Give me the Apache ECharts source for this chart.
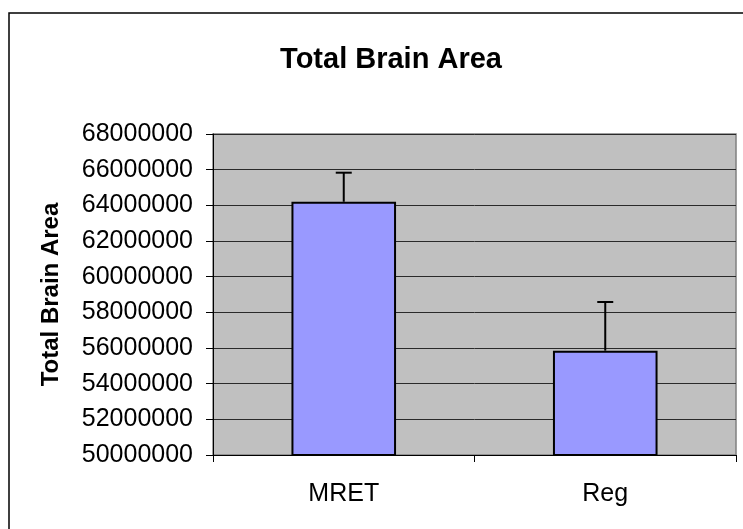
<!DOCTYPE html>
<html>
<head>
<meta charset="utf-8">
<script src="https://cdn.jsdelivr.net/npm/echarts@6/dist/echarts.min.js"></script>
<style>html,body{margin:0;padding:0;background:#fff}#c{width:743px;height:529px}</style>
</head>
<body>
<div id="c"></div>
<script>
var categories = ['MRET', 'Reg'];
var means = [64200000, 55850000];
var errors = [1630000, 2730000];
var yMin = 50000000, yMax = 68000000, yStep = 2000000;

var chart = echarts.init(document.getElementById('c'), null, {renderer: 'canvas'});
var errData = categories.map(function (c, i) { return [i, means[i], errors[i]]; });
var font = 'Liberation Sans, Arial, sans-serif';

chart.setOption({
  animation: false,
  backgroundColor: '#fff',
  title: {
    text: 'Total Brain Area',
    left: 386, top: 40, textAlign: 'center',
    textStyle: {fontFamily: font, fontSize: 29, fontWeight: 'bold', color: '#000'}
  },
  graphic: [{
    type: 'rect', z: 100, silent: true,
    shape: {x: 9, y: 13, width: 800, height: 600},
    style: {fill: 'none', stroke: '#000', lineWidth: 1.5}
  }],
  grid: {
    left: 213, right: 7, top: 134, bottom: 74,
    show: true, backgroundColor: '#C0C0C0', borderColor: '#808080', borderWidth: 1.5
  },
  xAxis: {
    type: 'category', data: categories,
    axisLine: {lineStyle: {color: '#000', width: 1}},
    axisTick: {show: true, length: 7, lineStyle: {color: '#000'}},
    axisLabel: {margin: 27, fontFamily: font, fontSize: 25, color: '#000'},
    splitLine: {show: false}
  },
  yAxis: {
    type: 'value', min: yMin, max: yMax, interval: yStep,
    name: 'Total Brain Area', nameLocation: 'middle', nameGap: 150,
    nameTextStyle: {fontFamily: font, fontSize: 24, fontWeight: 'bold', color: '#000'},
    axisLine: {show: true, lineStyle: {color: '#000', width: 1}},
    axisTick: {show: true, length: 7, lineStyle: {color: '#000'}},
    axisLabel: {margin: 20, fontFamily: font, fontSize: 25, color: '#000',
      formatter: function (v) { return String(v); }},
    splitLine: {show: true, lineStyle: {color: '#2a2a2a', width: 1}}
  },
  series: [{
    type: 'bar', data: means, barWidth: '40%',
    itemStyle: {color: '#9999FF', borderColor: '#000', borderWidth: 2}
  }, {
    type: 'custom', data: errData, z: 10,
    renderItem: function (params, api) {
      var x = api.value(0), m = api.value(1), e = api.value(2);
      var p0 = api.coord([x, m]);
      var p1 = api.coord([x, m + e]);
      var hw = 8;
      return {
        type: 'group',
        children: [
          {type: 'line', shape: {x1: p0[0], y1: p0[1], x2: p1[0], y2: p1[1]},
            style: {stroke: '#000', lineWidth: 2}},
          {type: 'line', shape: {x1: p1[0] - hw, y1: p1[1], x2: p1[0] + hw, y2: p1[1]},
            style: {stroke: '#000', lineWidth: 2}}
        ]
      };
    }
  }]
});
</script>
</body>
</html>
